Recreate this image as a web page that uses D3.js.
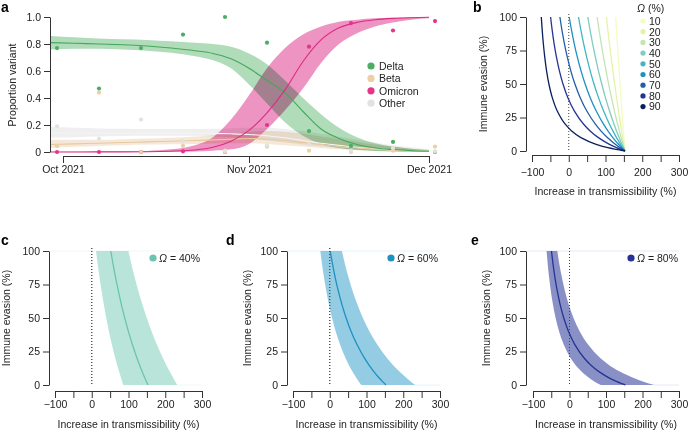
<!DOCTYPE html>
<html><head><meta charset="utf-8">
<script src="https://cdn.jsdelivr.net/npm/d3@7"></script>
<style>
body{margin:0;background:#fff;}
svg{font-family:"Liberation Sans",Arial,Helvetica,sans-serif;}
.axis text{font-size:10.5px;fill:#222;}
.axis path,.axis line{stroke:#333;stroke-width:1;}
.lbl{font-size:10.5px;fill:#222;}
.plabel{font-size:14px;font-weight:bold;fill:#000;}
</style></head><body><svg id="chart" width="689" height="431"></svg>
<script>
// ---------- Panel a data ----------
const fitDays = [-2,2,6,10,14,18,22,25,28,31,34,37,40,43,46,49,52,55,58,61];
const deltaFit = [0.81,0.805,0.80,0.795,0.785,0.77,0.75,0.73,0.69,0.62,0.53,0.44,0.30,0.17,0.10,0.055,0.03,0.018,0.01,0.006];
const deltaLo  = [0.76,0.765,0.765,0.76,0.75,0.735,0.71,0.68,0.62,0.50,0.36,0.22,0.12,0.06,0.03,0.015,0.008,0.004,0.002,0.001];
const deltaHi  = [0.86,0.85,0.84,0.835,0.83,0.82,0.81,0.80,0.78,0.73,0.65,0.53,0.40,0.28,0.18,0.11,0.065,0.04,0.025,0.015];
const omicronFit = [0,0,0.001,0.001,0.002,0.006,0.015,0.035,0.08,0.16,0.29,0.46,0.67,0.83,0.92,0.96,0.98,0.99,0.995,0.998];
const omicronLo  = [0,0,0,0,0.001,0.002,0.004,0.01,0.02,0.06,0.17,0.31,0.47,0.66,0.80,0.88,0.93,0.96,0.98,0.99];
const omicronHi  = [0.002,0.002,0.003,0.004,0.008,0.02,0.05,0.11,0.24,0.42,0.62,0.77,0.87,0.93,0.965,0.98,0.99,0.995,0.998,0.999];
const betaFit = [0.055,0.06,0.065,0.07,0.075,0.08,0.085,0.09,0.095,0.10,0.095,0.085,0.07,0.055,0.04,0.03,0.02,0.013,0.008,0.005];
const betaLo  = [0.03,0.038,0.045,0.05,0.055,0.058,0.06,0.063,0.065,0.065,0.06,0.05,0.04,0.03,0.02,0.013,0.008,0.005,0.003,0.002];
const betaHi  = [0.09,0.09,0.09,0.095,0.10,0.105,0.115,0.125,0.135,0.15,0.155,0.15,0.135,0.115,0.095,0.075,0.055,0.04,0.025,0.015];
const otherFit = [0.14,0.14,0.14,0.14,0.14,0.14,0.14,0.138,0.135,0.13,0.12,0.105,0.085,0.065,0.05,0.035,0.025,0.015,0.01,0.006];
const otherLo  = [0.105,0.11,0.115,0.118,0.12,0.12,0.12,0.115,0.11,0.10,0.085,0.07,0.055,0.04,0.028,0.018,0.012,0.007,0.004,0.002];
const otherHi  = [0.185,0.18,0.175,0.172,0.17,0.17,0.17,0.172,0.175,0.18,0.18,0.17,0.155,0.135,0.115,0.09,0.07,0.05,0.035,0.02];

const obsDays = [-1,6,13,20,27,34,41,48,55,62];
const deltaObs   = [0.77,0.47,0.77,0.87,1.0,0.81,0.155,0.045,0.075,0.0];
const betaObs    = [0.045,0.44,0.0,0.045,0.0,0.04,0.01,0.0,0.01,0.04];
const otherObs   = [0.19,0.10,0.24,0.08,0.01,0.05,0.055,0.01,0.03,0.005];
const omicronObs = [0.0,0.0,0.0,0.005,0.0,0.2,0.78,0.955,0.90,0.97];

const variantNames = ["Delta","Beta","Omicron","Other"];
const variantColors = ["#4cae62","#eccfa6","#e3358c","#e2e2e2"];
const dateTicks = ["2021-10-01","2021-11-01","2021-12-01"];
const propTicks = [0,0.2,0.4,0.6,0.8,1.0];

// ---------- Panels b-e data ----------
const evasion = [0,2.5,5,10,15,20,30,40,50,60,70,80,90,100];
const omegaLevels = [10,20,30,40,50,60,70,80,90];
const omegaColors = ["#f6fbc0","#e4f4a6","#c2e6b2","#7fcdbb","#41b6c4","#1d91c0","#225ea8","#253494","#0b1f5e"];
const trans10 = [153,152.3,151.6,150.2,148.9,147.5,144.8,142.2,139.7,137.2,134.7,132.3,130,127.7];
const trans20 = [153,151.4,149.9,146.8,143.9,141,135.3,130,124.9,120,115.3,110.8,106.5,102.4];
const trans30 = [153,150.3,147.7,142.6,137.7,133,124.2,116,108.4,101.3,94.6,88.4,82.6,77.1];
const trans40 = [153,148.9,144.8,137.2,130,123.2,110.8,99.7,89.8,80.7,72.5,65,58.1,51.8];
const trans50 = [153,146.8,141,130,120,110.8,94.6,80.7,68.7,58.1,48.8,40.6,33.2,26.5];
const trans60 = [153,143.9,135.3,120,106.5,94.6,74.5,58.1,44.6,33.2,23.4,15,7.7,1.2];
const trans70 = [153,139.1,126.6,105.1,87.4,72.5,48.8,30.9,16.8,5.4,-3.9,-11.7,-18.4,-24.1];
const trans80 = [153,130,110.8,80.7,58.1,40.6,15,-2.7,-15.7,-25.6,-33.4,-39.8,-45,-49.4];
const trans90 = [153,106.5,74.5,33,7.7,-9.6,-31.6,-45,-54,-60.5,-65.3,-69.1,-72.2,-74.7];
const transByOmega = [trans10,trans20,trans30,trans40,trans50,trans60,trans70,trans80,trans90];

const band40Lo = [86,83,80,74.4,69.1,64.1,55,46.8,39.5,32.9,26.8,21.3,16.3,11.6];
const band40Hi = [233,227.5,222.3,212.2,202.7,193.8,177.5,162.9,149.8,137.9,127,117.2,108.1,99.8];
const band60Lo = [86,79.3,73,61.7,51.8,43.1,28.3,16.3,6.3,-2.1,-9.3,-15.5,-20.9,-25.6];
const band60Hi = [233,221,209.8,189.6,171.8,156.2,129.7,108.1,90.3,75.3,62.4,51.4,41.7,33.2];
const band80Lo = [86,69.1,55,32.9,16.3,3.3,-15.5,-28.5,-38,-45.3,-51.1,-55.7,-59.6,-62.8];
const band80Hi = [233,202.7,177.5,137.9,108.1,85,51.4,28.1,11,-2.1,-12.4,-20.7,-27.6,-33.4];

const transTicks = [-100,-50,0,50,100,150,200,250,300];
const evasionTicks = [0,25,50,75,100];

// ---------- drawing ----------
const svg = d3.select("#chart");
const dayDate = d => new Date(Date.UTC(2021,9,1) + d*86400000);

// Panel a
const xa = d3.scaleUtc().domain([dayDate(0), dayDate(61)]).range([63,429]);
const ya = d3.scaleLinear().domain([0,1]).range([152,17]);
const ga = svg.append("g");

ga.append("g").attr("class","axis").attr("transform","translate(0,156)")
  .call(d3.axisBottom(xa).tickValues(dateTicks.map(s=>new Date(s+"T00:00:00Z")))
    .tickFormat(d3.utcFormat("%b %Y")).tickSize(7).tickSizeOuter(0).tickPadding(3));
ga.append("g").attr("class","axis").attr("transform","translate(50,0)")
  .call(d3.axisLeft(ya).tickValues(propTicks).tickFormat(d=>d===0?"0":d3.format(".1f")(d))
    .tickSize(6).tickSizeOuter(0).tickPadding(3));
ga.append("text").attr("class","lbl").attr("font-size","11px")
  .attr("transform","translate(16,85) rotate(-90)").attr("text-anchor","middle").text("Proportion variant");

const fits = [
  {name:"Other", fit:otherFit, lo:otherLo, hi:otherHi, band:"#e4e4e4", op:0.6, line:"#f4f4f4"},
  {name:"Beta", fit:betaFit, lo:betaLo, hi:betaHi, band:"#edd6b8", op:0.55, line:"#e8c9a0"},
  {name:"Delta", fit:deltaFit, lo:deltaLo, hi:deltaHi, band:"#7cc48a", op:0.6, line:"#45a85c"},
  {name:"Omicron", fit:omicronFit, lo:omicronLo, hi:omicronHi, band:"#e566a8", op:0.7, line:"#de2a85"}
];
const area = d3.area().x(d=>xa(dayDate(d.day))).y0(d=>ya(d.lo)).y1(d=>ya(d.hi)).curve(d3.curveMonotoneX);
const line = d3.line().x(d=>xa(dayDate(d.day))).y(d=>ya(d.v)).curve(d3.curveMonotoneX);
fits.forEach(f=>{
  const rows = fitDays.map((day,i)=>({day, lo:f.lo[i], hi:f.hi[i]}));
  ga.append("path").attr("d",area(rows)).attr("fill",f.band).attr("fill-opacity",f.op)
    .style("mix-blend-mode","multiply");
});
fits.forEach(f=>{
  const rows = fitDays.map((day,i)=>({day, v:f.fit[i]}));
  ga.append("path").attr("d",line(rows)).attr("fill","none").attr("stroke",f.line).attr("stroke-width",1.1);
});
const obsSets = [
  {vals:deltaObs, col:variantColors[0]},
  {vals:omicronObs, col:variantColors[2]},
  {vals:betaObs, col:variantColors[1]},
  {vals:otherObs, col:variantColors[3]}
];
obsSets.forEach(s=>{
  ga.selectAll(null).data(obsDays.map((d,i)=>({d, v:s.vals[i]}))).enter().append("circle")
    .attr("cx",p=>xa(dayDate(p.d))).attr("cy",p=>ya(p.v)).attr("r",2.1).attr("fill",s.col);
});
const legA = ga.append("g");
variantNames.forEach((n,i)=>{
  const y = 66 + i*12.4;
  legA.append("circle").attr("cx",371).attr("cy",y).attr("r",3.6).attr("fill",variantColors[i]);
  legA.append("text").attr("class","lbl").attr("font-size","11px").attr("x",379).attr("y",y+4).text(n);
});
svg.append("text").attr("class","plabel").attr("x",1).attr("y",12).text("a");

// Generic axes for b-e
function panelAxes(g, x, y, axisY, yAxisX, ylabX, xlabY, tickLabOffset){
  g.append("g").attr("class","axis").attr("transform",`translate(0,${axisY})`)
    .call(d3.axisBottom(x).tickValues(transTicks).tickFormat(d=>d%100===0?d3.format("d")(d):"")
      .tickSize(7).tickSizeOuter(0).tickPadding(tickLabOffset));
  g.append("g").attr("class","axis").attr("transform",`translate(${yAxisX},0)`)
    .call(d3.axisLeft(y).tickValues(evasionTicks).tickSize(6).tickSizeOuter(0).tickPadding(3));
  const [y0,y1] = y.range();
  g.append("text").attr("class","lbl").attr("font-size","11px")
    .attr("transform",`translate(${ylabX},${(y0+y1)/2}) rotate(-90)`).attr("text-anchor","middle")
    .text("Immune evasion (%)");
  const [x0,x1] = x.range();
  g.append("text").attr("class","lbl").attr("font-size","11px")
    .attr("x",(x0+x1)/2).attr("y",xlabY).attr("text-anchor","middle").text("Increase in transmissibility (%)");
  g.append("line").attr("x1",x(0)).attr("x2",x(0)).attr("y1",y(100)-3).attr("y2",y(0))
    .attr("stroke","#444").attr("stroke-width",1).attr("stroke-dasharray","1,2");
}

// Panel b
const xb = d3.scaleLinear().domain([-100,300]).range([532,679]);
const yb = d3.scaleLinear().domain([0,100]).range([151,17]);
const gb = svg.append("g");
panelAxes(gb, xb, yb, 155, 526, 487, 195, 7);
const lineB = d3.line().x(d=>xb(d.t)).y(d=>yb(d.e)).curve(d3.curveMonotoneY);
transByOmega.forEach((arr,k)=>{
  const rows = evasion.map((e,i)=>({e, t:arr[i]})).reverse();
  gb.append("path").attr("d",lineB(rows)).attr("fill","none").attr("stroke",omegaColors[k]).attr("stroke-width",1.3);
});
const legB = gb.append("g");
const tB = legB.append("text").attr("class","lbl").attr("font-size","11px").attr("x",637).attr("y",12);
tB.append("tspan").attr("font-style","italic").text("Ω");
tB.append("tspan").text(" (%)");
omegaLevels.forEach((o,i)=>{
  const y = 21 + i*10.7;
  legB.append("circle").attr("cx",643).attr("cy",y).attr("r",2.6).attr("fill",omegaColors[i]);
  legB.append("text").attr("class","lbl").attr("x",649).attr("y",y+3.8).text(o);
});
svg.append("text").attr("class","plabel").attr("x",473).attr("y",12).text("b");

// Panels c, d, e
const lower = [
  {lab:"c", omega:40, lx:1, yAxisX:49, xr:[55,202], ylabX:10, fit:trans40, lo:band40Lo, hi:band40Hi, col:"#6cc4b0", bandCol:"#7fcdbb", bop:0.55, legX:153},
  {lab:"d", omega:60, lx:226, yAxisX:287, xr:[293,440], ylabX:251, fit:trans60, lo:band60Lo, hi:band60Hi, col:"#1d91c0", bandCol:"#2a9bc8", bop:0.5, legX:391},
  {lab:"e", omega:80, lx:471, yAxisX:526, xr:[533,679], ylabX:490, fit:trans80, lo:band80Lo, hi:band80Hi, col:"#253494", bandCol:"#3a46a0", bop:0.6, legX:631}
];
lower.forEach(p=>{
  const x = d3.scaleLinear().domain([-100,300]).range(p.xr);
  const y = d3.scaleLinear().domain([0,100]).range([385,251]);
  const g = svg.append("g");
  panelAxes(g, x, y, 391, p.yAxisX, p.ylabX, 428, 3);
  g.append("line").attr("x1",p.yAxisX+1).attr("x2",x(300)).attr("y1",y(100)).attr("y2",y(100))
    .attr("stroke",p.bandCol).attr("stroke-opacity",0.12);
  g.append("line").attr("x1",x(p.hi[0])).attr("x2",x(300)).attr("y1",y(0)).attr("y2",y(0))
    .attr("stroke",p.bandCol).attr("stroke-opacity",0.12);
  const rows = evasion.map((e,i)=>({e, lo:p.lo[i], hi:p.hi[i], t:p.fit[i]})).reverse();
  const ar = d3.area().y(d=>y(d.e)).x0(d=>x(d.lo)).x1(d=>x(d.hi)).curve(d3.curveMonotoneY);
  g.append("path").attr("d",ar(rows)).attr("fill",p.bandCol).attr("fill-opacity",p.bop);
  const ln = d3.line().y(d=>y(d.e)).x(d=>x(d.t)).curve(d3.curveMonotoneY);
  g.append("path").attr("d",ln(rows)).attr("fill","none").attr("stroke",p.col).attr("stroke-width",1.3);
  g.append("line").attr("x1",x(0)).attr("x2",x(0)).attr("y1",y(100)-3).attr("y2",y(0))
    .attr("stroke","#444").attr("stroke-width",1).attr("stroke-dasharray","1,2");
  g.append("circle").attr("cx",p.legX).attr("cy",258).attr("r",3.6).attr("fill",p.col);
  const t = g.append("text").attr("class","lbl").attr("font-size","11px").attr("x",p.legX+6).attr("y",262);
  t.append("tspan").attr("font-style","italic").text("Ω");
  t.append("tspan").text(" = " + p.omega + "%");
  svg.append("text").attr("class","plabel").attr("x",p.lx).attr("y",245).text(p.lab);
});
</script></body></html>
